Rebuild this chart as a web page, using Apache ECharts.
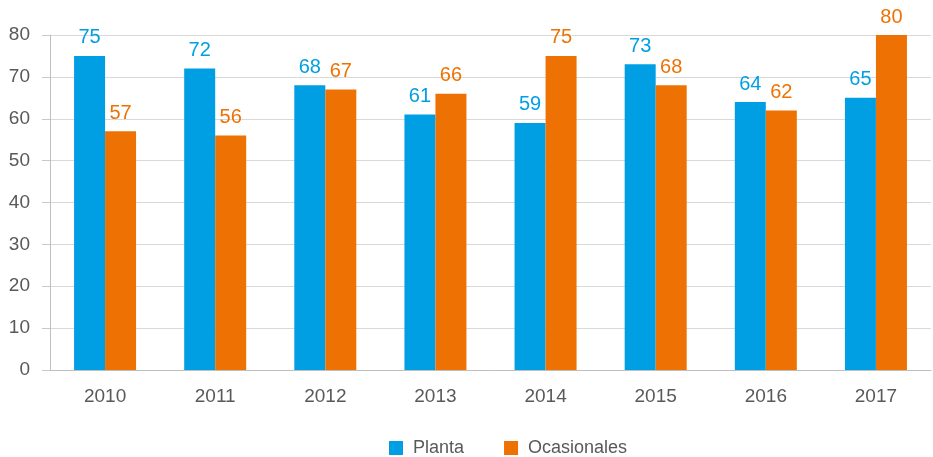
<!DOCTYPE html>
<html><head><meta charset="utf-8">
<script src="https://cdn.jsdelivr.net/npm/echarts@6/dist/echarts.min.js"></script>
<style>html,body{margin:0;padding:0;background:#fff}#c{width:933px;height:457px}</style>
</head><body><div id="c"></div>
<script>
const categories = ['2010','2011','2012','2013','2014','2015','2016','2017'];
const planta = [75,72,68,61,59,73,64,65];
const ocasionales = [57,56,67,66,75,68,62,80];
const chart = echarts.init(document.getElementById('c'));
const font = '"Liberation Sans", Arial, sans-serif';
chart.setOption({
  animation:false,
  textStyle:{fontFamily:font},
  grid:{left:50,right:2,top:35,bottom:87},
  legend:{top:434,left:384,itemWidth:14,itemHeight:14,itemGap:40,icon:'rect',
    textStyle:{fontFamily:font,fontSize:18,color:'#595959',padding:[0,0,0,5]},
    data:['Planta','Ocasionales']},
  xAxis:{type:'category',data:categories,
    axisLine:{lineStyle:{color:'#bfbfbf',width:1}},
    axisTick:{show:false},
    axisLabel:{fontFamily:font,fontSize:19,color:'#595959',margin:17}},
  yAxis:{type:'value',min:0,max:80,interval:10,
    axisLine:{show:true,lineStyle:{color:'#bfbfbf'}},
    axisTick:{show:true,length:8,lineStyle:{color:'#c8c8c8'}},
    splitLine:{show:true,lineStyle:{color:'#d9d9d9'}},
    axisLabel:{fontFamily:font,fontSize:19,color:'#595959',margin:20}},
  series:[
    {name:'Planta',type:'bar',data:planta,barWidth:31,barGap:'0%',
     itemStyle:{color:'#009FE3'},
     label:{show:true,position:'top',color:'#009FE3',fontSize:20,fontFamily:font,distance:8}},
    {name:'Ocasionales',type:'bar',data:ocasionales,barWidth:31,
     itemStyle:{color:'#EE7203'},
     label:{show:true,position:'top',color:'#EE7203',fontSize:20,fontFamily:font,distance:8}}
  ]
});
</script></body></html>
